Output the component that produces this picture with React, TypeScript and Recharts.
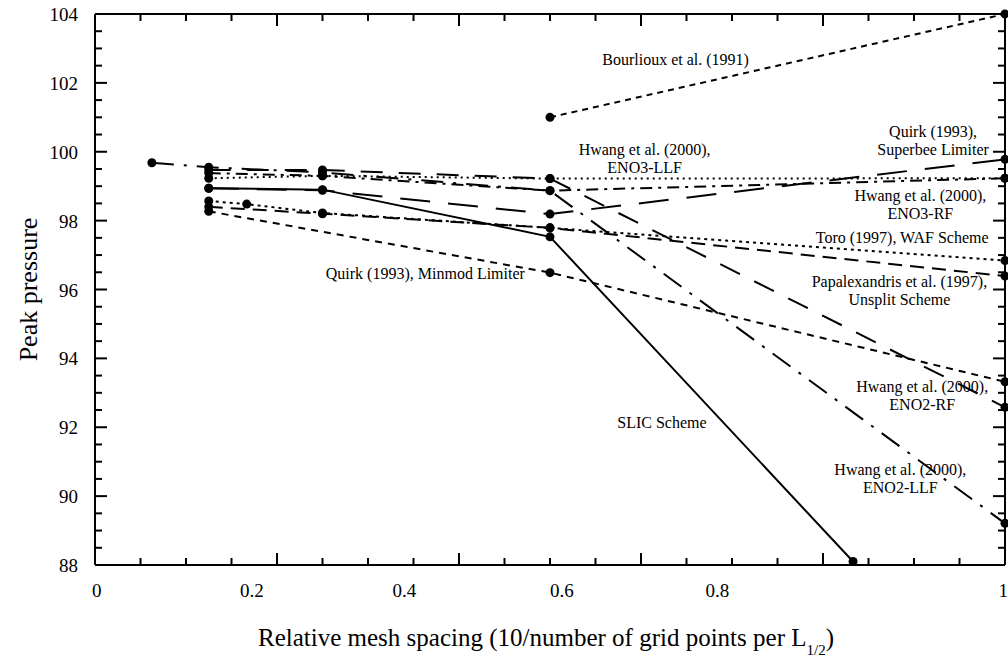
import { LineChart, Line, XAxis, YAxis, ReferenceDot } from "recharts";

const FONT = '"Liberation Serif", "Times New Roman", serif';

// axis ticks (minor every 0.05 / 0.5, majors every 0.2 / 2)
const xTicks = [0, 0.05, 0.1, 0.15, 0.2, 0.25, 0.3, 0.35, 0.4, 0.45, 0.5, 0.55, 0.6, 0.65, 0.7, 0.75, 0.8, 0.85, 0.9, 0.95, 1];
const yTicks = [88, 88.5, 89, 89.5, 90, 90.5, 91, 91.5, 92, 92.5, 93, 93.5, 94, 94.5, 95, 95.5, 96, 96.5, 97, 97.5, 98, 98.5, 99, 99.5, 100, 100.5, 101, 101.5, 102, 102.5, 103, 103.5, 104];
// the printed x labels sit where they sit in the original figure (fraction of axis width)
const xLabelAt = [0.002, 0.1725, 0.34, 0.513, 0.684, 0.998];
const xLabelText = ["0", "0.2", "0.4", "0.6", "0.8", "1"];

// series
const slic = [{ x: 0.125, y: 98.94 }, { x: 0.25, y: 98.9 }, { x: 0.5, y: 97.53 }, { x: 0.833, y: 88.1 }];
const bourlioux = [{ x: 0.5, y: 101.0 }, { x: 1, y: 104.0 }];
const quirkMinmod = [{ x: 0.125, y: 98.27 }, { x: 0.5, y: 96.49 }, { x: 1, y: 93.32 }];
const quirkSuperbee = [{ x: 0.125, y: 98.94 }, { x: 0.25, y: 98.88 }, { x: 0.5, y: 98.19 }, { x: 1, y: 99.78 }];
const toroWaf = [{ x: 0.125, y: 98.57 }, { x: 0.1667, y: 98.48 }, { x: 0.25, y: 98.22 }, { x: 0.5, y: 97.79 }, { x: 1, y: 96.84 }];
const papalexandris = [{ x: 0.125, y: 98.4 }, { x: 0.25, y: 98.2 }, { x: 0.5, y: 97.79 }, { x: 1, y: 96.39 }];
const eno3Llf = [{ x: 0.125, y: 99.23 }, { x: 0.25, y: 99.3 }, { x: 0.5, y: 99.22 }, { x: 1, y: 99.23 }];
const eno3Rf = [{ x: 0.125, y: 99.38 }, { x: 0.25, y: 99.3 }, { x: 0.5, y: 98.87 }, { x: 1, y: 99.23 }];
const eno2Rf = [{ x: 0.125, y: 99.47 }, { x: 0.25, y: 99.47 }, { x: 0.5, y: 99.22 }, { x: 1, y: 92.58 }];
const eno2Llf = [{ x: 0.0625, y: 99.68 }, { x: 0.125, y: 99.55 }, { x: 0.25, y: 99.4 }, { x: 0.5, y: 98.87 }, { x: 1, y: 89.21 }];

const series = [
  { key: "slic", data: slic, dash: undefined },
  { key: "bourlioux", data: bourlioux, dash: "6 5" },
  { key: "minmod", data: quirkMinmod, dash: "7 6" },
  { key: "superbee", data: quirkSuperbee, dash: "30 18" },
  { key: "toro", data: toroWaf, dash: "3 4" },
  { key: "papa", data: papalexandris, dash: "14 8" },
  { key: "eno3llf", data: eno3Llf, dash: "2 4" },
  { key: "eno3rf", data: eno3Rf, dash: "12 6 3 6" },
  { key: "eno2rf", data: eno2Rf, dash: "22 16" },
  { key: "eno2llf", data: eno2Llf, dash: "22 10 3 10" },
];

// annotation text, anchored in data units (first line baseline)
const notes = [
  { x: 0.638, y: 102.52, lines: ["Bourlioux et al. (1991)"] },
  { x: 0.604, y: 99.9, lines: ["Hwang et al. (2000),", "ENO3-LLF"] },
  { x: 0.921, y: 100.43, lines: ["Quirk (1993),", "Superbee Limiter"] },
  { x: 0.907, y: 98.57, lines: ["Hwang et al. (2000),", "ENO3-RF"] },
  { x: 0.887, y: 97.35, lines: ["Toro (1997), WAF Scheme"] },
  { x: 0.884, y: 96.07, lines: ["Papalexandris et al. (1997),", "Unsplit Scheme"] },
  { x: 0.363, y: 96.3, lines: ["Quirk (1993), Minmod Limiter"] },
  { x: 0.909, y: 93.02, lines: ["Hwang et al. (2000),", "ENO2-RF"] },
  { x: 0.623, y: 91.98, lines: ["SLIC Scheme"] },
  { x: 0.885, y: 90.61, lines: ["Hwang et al. (2000),", "ENO2-LLF"] },
];

const isMajor = (v: number, step: number) => Math.abs(v / step - Math.round(v / step)) < 1e-6;

function TopTick({ x, y, payload }: any) {
  const len = isMajor(payload.value, 0.2) ? 12 : 7;
  return <line x1={x} y1={y} x2={x} y2={Number(y) + len} stroke="#000" strokeWidth={2} />;
}

// bottom frame tick, drawn as a stub rising from (v, 88)
function BottomStub({ cx, cy, major }: any) {
  const len = major ? 12 : 7;
  return <line x1={cx} y1={cy} x2={cx} y2={Number(cy) - len} stroke="#000" strokeWidth={2} />;
}

function YTick({ x, y, payload, left }: any) {
  const major = isMajor(payload.value, 2);
  const len = major ? 12 : 7;
  return (
    <g>
      <line x1={x} y1={y} x2={left ? x + len : x - len} y2={y} stroke="#000" strokeWidth={2} />
      {left && major && (
        <text x={x - 17} y={y + 7} textAnchor="end" fontFamily={FONT} fontSize={19} fill="#000">
          {payload.value}
        </text>
      )}
    </g>
  );
}

// tick labels and title under the plot (drawn from the axis viewBox)
function XBottom({ viewBox }: any) {
  const { x, y, width } = viewBox;
  const cx = x + width / 2 - 4;
  return (
    <g>
      {xLabelAt.map((f, i) => (
        <text key={i} x={x + f * width} y={y + 32} textAnchor="middle" fontFamily={FONT} fontSize={19} fill="#000">
          {xLabelText[i]}
        </text>
      ))}
      <text x={cx} y={y + 81} textAnchor="middle" fontFamily={FONT} fontSize={25} fill="#000">
        <tspan>Relative mesh spacing (10/number of grid points per L</tspan>
        <tspan fontSize={15} dy={9}>1/2</tspan>
        <tspan dy={-9}>)</tspan>
      </text>
    </g>
  );
}

function YTitle({ viewBox }: any) {
  const cy = viewBox.y + viewBox.height / 2;
  return (
    <text x={37} y={cy} transform={`rotate(-90 37 ${cy})`} textAnchor="middle" fontFamily={FONT} fontSize={26} fill="#000">
      Peak pressure
    </text>
  );
}

function Note({ cx, cy, lines }: any) {
  return (
    <text x={cx} y={cy} textAnchor="middle" fontFamily={FONT} fontSize={16} fill="#000">
      {lines.map((l: string, i: number) => (
        <tspan key={i} x={cx} dy={i === 0 ? 0 : 18}>{l}</tspan>
      ))}
    </text>
  );
}

export default function App() {
  const frame = { stroke: "#000", strokeWidth: 2 };
  return (
    <div style={{ position: "absolute", left: 0, top: 0, background: "#fff" }}>
      <LineChart width={1008} height={661} margin={{ top: 13, right: 0, bottom: 0, left: 0 }}>
        <XAxis
          xAxisId="x" type="number" dataKey="x" domain={[0, 1]} ticks={xTicks} interval={0}
          height={96} tickSize={0} tickMargin={0} tickLine={false} tick={false} axisLine={frame}
          label={{ content: (p: any) => <XBottom viewBox={p.viewBox} /> }}
        />
        <XAxis
          xAxisId="top" orientation="top" type="number" dataKey="x" domain={[0, 1]} ticks={xTicks} interval={0}
          height={1} tickSize={0} tickMargin={0} tickLine={false} axisLine={frame}
          tick={<TopTick />}
        />
        <YAxis
          yAxisId="y" type="number" domain={[88, 104]} ticks={yTicks} interval={0}
          width={95} tickSize={0} tickMargin={0} tickLine={false} axisLine={frame}
          tick={<YTick left />}
          label={{ content: (p: any) => <YTitle viewBox={p.viewBox} /> }}
        />
        <YAxis
          yAxisId="right" orientation="right" type="number" domain={[88, 104]} ticks={yTicks} interval={0}
          width={3} tickSize={0} tickMargin={0} tickLine={false} axisLine={frame}
          tick={<YTick left={false} />}
        />
        {/* invisible helper so the mirrored frame axes get a scale */}
        <Line
          xAxisId="top" yAxisId="right" data={bourlioux} dataKey="y" stroke="none"
          dot={false} activeDot={false} isAnimationActive={false}
        />
        {series.map((s) => (
          <Line
            key={s.key}
            xAxisId="x"
            yAxisId="y"
            data={s.data}
            dataKey="y"
            type="linear"
            stroke="#000"
            strokeWidth={2}
            strokeDasharray={s.dash}
            dot={{ r: 4.5, fill: "#000", strokeWidth: 0 }}
            activeDot={false}
            isAnimationActive={false}
          />
        ))}
        {xTicks.map((v) => (
          <ReferenceDot
            key={`bt${v}`}
            xAxisId="x"
            yAxisId="y"
            x={v}
            y={88}
            ifOverflow="visible"
            shape={(p: any) => <BottomStub cx={p.cx} cy={p.cy} major={isMajor(v, 0.2)} />}
          />
        ))}
        {notes.map((n, i) => (
          <ReferenceDot
            key={i}
            xAxisId="x"
            yAxisId="y"
            x={n.x}
            y={n.y}
            shape={(p: any) => <Note cx={p.cx} cy={p.cy} lines={n.lines} />}
          />
        ))}
      </LineChart>
    </div>
  );
}
